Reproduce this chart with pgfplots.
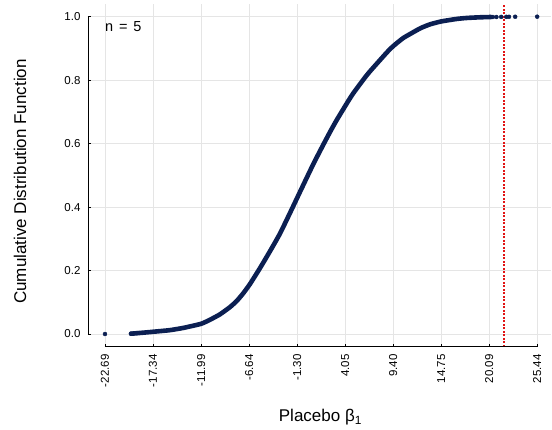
\documentclass[border=0pt]{standalone}
\usepackage{fontspec}
\setmainfont{Liberation Sans}
\usepackage{pgfplots}
\pgfplotsset{compat=1.18}
\definecolor{cdfnavy}{HTML}{0B1F52}
\definecolor{obsred}{RGB}{225,20,20}
\definecolor{gridgray}{RGB}{229,229,229}

\begin{document}
\begin{tikzpicture}
\begin{axis}[
  width=463pt,
  height=342.7pt,
  scale only axis,
  xmin=-24.58, xmax=26.98,
  ymin=-0.04, ymax=1.04,
  axis x line*=bottom,
  axis y line*=left,
  axis line style={draw=none},
  xtick={-22.69,-17.34,-11.99,-6.64,-1.30,4.05,9.40,14.75,20.09,25.44},
  xticklabels={-22.69,-17.34,-11.99,-6.64,-1.30,4.05,9.40,14.75,20.09,25.44},
  ytick={0,0.2,0.4,0.6,0.8,1},
  yticklabels={0.0,0.2,0.4,0.6,0.8,1.0},
  grid=major,
  major grid style={draw=gridgray, line width=0.8pt},
  tick align=inside,
  major tick length=3pt,
  tick style={black, line width=0.8pt},
  ticklabel style={font=\fontsize{11.5}{12}\selectfont},
  xticklabel style={rotate=90, anchor=east, inner sep=0pt, inner xsep=7.5pt},
  yticklabel style={anchor=east, inner sep=0pt, inner xsep=7.4pt},
  xlabel={Placebo β\textsubscript{1}},
  xlabel style={at={(axis description cs:0.502,-0.219)}, anchor=base,
    inner sep=0pt, font=\fontsize{17}{18}\selectfont},
  ylabel={Cumulative Distribution Function},
  ylabel style={at={(axis description cs:-0.1339,0.482)}, anchor=base,
    inner sep=0pt, font=\fontsize{17}{18}\selectfont},
  clip=false
]

% dense part of the empirical CDF
\addplot[cdfnavy, line width=4.6pt, line cap=round, line join=round, smooth, tension=0.3]
  coordinates {
  (-19.79,0.001) (-18.5,0.004) (-17.34,0.007) (-15.5,0.012) (-14.0,0.019)
  (-12.0,0.032) (-10.99,0.045) (-9.88,0.062) (-8.76,0.085) (-8.02,0.104)
  (-7.30,0.128) (-6.53,0.158) (-5.42,0.208) (-4.31,0.261) (-3.19,0.317)
  (-1.89,0.393) (-0.97,0.448) (0.52,0.536) (1.63,0.597) (2.38,0.637)
  (3.11,0.674) (4.42,0.735) (4.97,0.759) (6.20,0.806) (6.83,0.828)
  (8.69,0.887) (9.40,0.907) (10.54,0.933) (12.40,0.963) (13.52,0.976)
  (14.75,0.985) (16.5,0.993) (17.61,0.996) (19.0,0.998) (20.3,0.999)
  };

% sparse draws in the tails
\addplot[cdfnavy, only marks, mark=*, mark size=2pt]
  coordinates {
  (-22.69,0.0) (-19.79,0.001) (-19.45,0.002) (-19.1,0.003)
  (20.5,0.999) (20.9,0.999) (21.43,0.9993) (22.0,0.9995) (22.3,0.9996)
  (22.99,0.9998) (25.44,1.0)
  };

% observed estimate
\addplot[draw=obsred, line width=1.3pt, dash pattern=on 2pt off 1.5pt, mark=none]
  coordinates {(21.73,-0.04) (21.73,1.04)};

% range-frame axis lines
\draw[black, line width=0.8pt] (axis cs:-22.69,-0.04) -- (axis cs:25.44,-0.04);
\draw[black, line width=0.8pt] (axis cs:-24.58,0) -- (axis cs:-24.58,1);

\node[anchor=base west, inner sep=0pt, font=\fontsize{14.5}{15}\selectfont]
  at (axis cs:-22.69,0.953) {n\hspace{0.4em}=\hspace{0.4em}5};

\end{axis}
\path (current axis.south west) ++(-88pt,-83.3pt) rectangle ++(552pt,430pt);
\end{tikzpicture}
\end{document}
